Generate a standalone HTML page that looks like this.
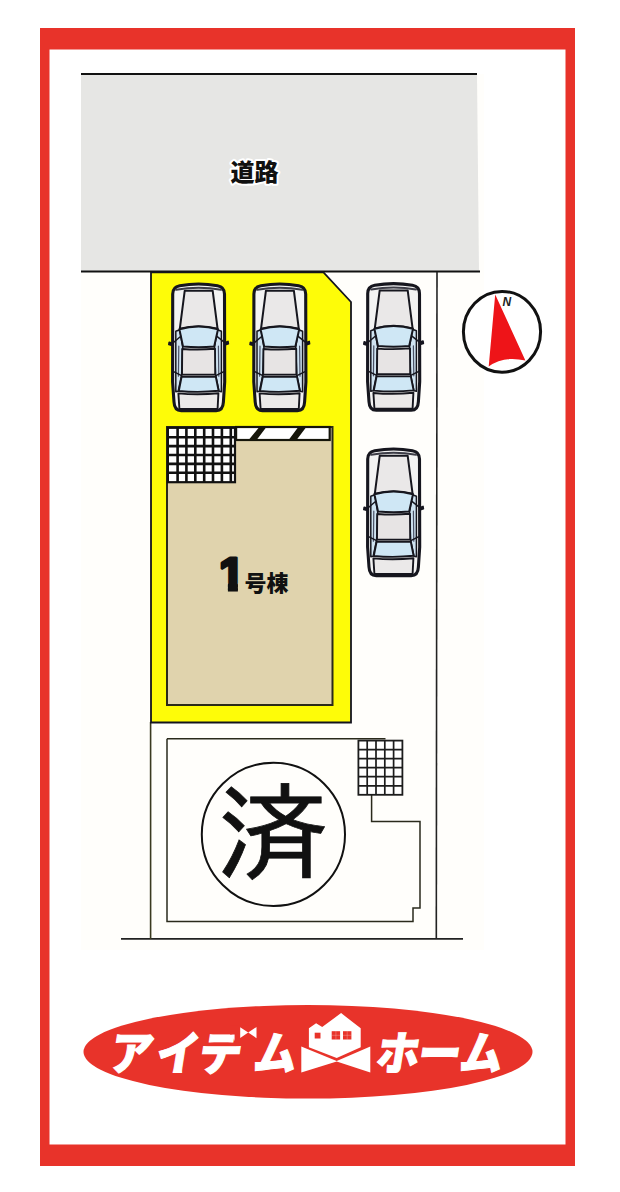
<!DOCTYPE html>
<html lang="ja">
<head>
<meta charset="utf-8">
<title>区画図</title>
<style>
html,body{margin:0;padding:0;background:#fff;}
body{width:620px;height:1192px;overflow:hidden;}
svg{display:block;}
text{font-family:"Liberation Sans","Noto Sans CJK JP",sans-serif;}
.jp{font-family:"Noto Sans CJK JP","Liberation Sans",sans-serif;}
</style>
</head>
<body>
<svg width="620" height="1192" viewBox="0 0 620 1192">
<defs>
  <!-- top view sedan, body box 54 x 130 -->
  <g id="car" stroke-linejoin="round" stroke-linecap="round">
    <!-- mirrors -->
    <path d="M2,61.6 L-2,60.2 L-2.4,62.6 L2,63.8 Z" fill="#15151f" stroke="#15151f" stroke-width="1.6"/>
    <path d="M52.8,61 L56.8,59.4 L57.2,61.8 L52.8,63.2 Z" fill="#15151f" stroke="#15151f" stroke-width="1.6"/>
    <!-- body -->
    <path d="M1.5,12 Q1.5,4.9 8.5,3.7 Q27.4,0.3 46.3,3.7 Q53.3,4.9 53.3,12 L53.5,100 L52.2,120 Q51.8,128.7 45,128.7 L10,128.7 Q3.2,128.7 2.8,120 L1.4,100 Z" fill="#f3f3f3" stroke="#16161e" stroke-width="3.1"/>
    <!-- front bumper band -->
    <path d="M5,7.8 Q27.4,3.9 49.8,7.8" fill="none" stroke="#3c3c46" stroke-width="2"/>
    <!-- hood -->
    <path d="M13.5,8.8 L41.5,8.8 L46.4,46.8 Q27.4,41.6 8.6,46.8 Z" fill="#eae8e8" stroke="#16161e" stroke-width="2"/>
    <g transform="translate(0,1.2)">
    <!-- side glass bands -->
    <path d="M4.6,48 L8.6,46.5 L11.5,64 L10.4,92 L7,108 L4.6,108.5 Z" fill="#cfe3f1" stroke="#16161e" stroke-width="1.5"/>
    <path d="M50.2,48 L46.2,46.5 L43.3,64 L44.4,92 L47.8,108 L50.2,108.5 Z" fill="#cfe3f1" stroke="#16161e" stroke-width="1.5"/>
    <path d="M7.6,63 L7.2,93 M47.2,63 L47.6,93" fill="none" stroke="#4a5064" stroke-width="1.2"/>
    <!-- windshield -->
    <path d="M8.2,46 Q27.4,40.4 46.8,46 L43,63.2 Q27.4,64.8 11.8,63.2 Z" fill="#cfe7f5" stroke="#16161e" stroke-width="2"/>
    <!-- roof -->
    <path d="M11,65.8 Q27.4,67 43.8,65.6 L44,91.4 L10.8,91.4 Z" fill="#e7e4e4" stroke="#16161e" stroke-width="1.9"/>
    <!-- rear window -->
    <path d="M10.4,93.6 L44.6,93.6 L47.4,107.6 Q27.4,109.6 7.6,107.8 Z" fill="#cfe7f5" stroke="#16161e" stroke-width="1.9"/>
    <!-- trunk -->
    <path d="M7.2,110.2 Q27.4,112 47.2,110 L46.4,125.8 L8.2,125.8 Z" fill="#ebe9e9" stroke="#16161e" stroke-width="1.9"/>
    <!-- pillars / door lines -->
    <path d="M2,59.5 L9.6,53 M53,59 L45.4,53 M2.4,88.5 L10.4,92.5 M52.6,88.5 L44.6,92.5" fill="none" stroke="#16161e" stroke-width="1.5"/>
    </g>
  </g>
</defs>

<!-- background -->
<rect x="0" y="0" width="620" height="1192" fill="#ffffff"/>

<!-- red frame -->
<path d="M40,28 H575 V1166 H40 Z M49.5,49.5 V1144.5 H565.5 V49.5 Z" fill="#e8332a" fill-rule="evenodd"/>

<!-- faint paper tint of the plan -->
<rect x="81" y="74" width="403" height="876" fill="#fffefb"/>

<!-- road -->
<path d="M81,74 L477,74 L479,271.5 L81,271.5 Z" fill="#e6e6e4"/>
<path d="M81,74 L477,74" stroke="#111" stroke-width="2" fill="none"/>
<path d="M81,271.5 L480,271.5" stroke="#111" stroke-width="2.2" fill="none"/>
<text class="jp" x="254.5" y="181" font-size="24" font-weight="900" text-anchor="middle" fill="#111" stroke="#fff" stroke-width="4" stroke-linejoin="round" paint-order="stroke">道路</text>

<!-- lot lines -->
<path d="M437,272 L436.3,939" stroke="#222" stroke-width="1.6" fill="none"/>
<path d="M121,938.8 L463,938.8" stroke="#222" stroke-width="1.8" fill="none"/>
<path d="M150.6,722 L150.6,939" stroke="#3a3a20" stroke-width="1.6" fill="none"/>

<!-- yellow lot -->
<path d="M151,272.4 L323.5,272.4 L351,302 L351,722.5 L151,722.5 Z" fill="#fefc08" stroke="#14141e" stroke-width="1.8" stroke-linejoin="miter"/>

<!-- building 1 -->
<path d="M167,427 L332.5,427 L332.5,705 L167,705 Z" fill="#e0d3ad" stroke="#2a2a1a" stroke-width="2"/>
<!-- hatched strip -->
<rect x="236.1" y="427" width="93.6" height="13" fill="#ffffff" stroke="#15150a" stroke-width="2.2"/>
<path d="M248.6,440 L259.3,427 L266.4,427 L256.6,440 Z M288.6,440 L298.3,427 L306.3,427 L296.5,440 Z" fill="#15150a"/>
<!-- grid 1 -->
<g>
  <rect x="167.9" y="427.8" width="67.1" height="54.4" fill="#ffffff" stroke="#111" stroke-width="2.2"/>
  <path d="M177.6,428 V482 M186.4,428 V482 M195.3,428 V482 M204.2,428 V482 M213,428 V482 M221.9,428 V482 M230.8,428 V482 M168.5,437.2 H235 M168.5,446.1 H235 M168.5,455 H235 M168.5,463.9 H235 M168.5,472.8 H235" stroke="#111" stroke-width="2.6" fill="none"/>
</g>
<clipPath id="oneclip"><path d="M200,540 H260 V583 H237.9 V600 H227.9 V583 H200 Z"/></clipPath>
<g clip-path="url(#oneclip)"><text x="218.9" y="590.2" fill="#111" font-weight="bold" font-size="46" stroke="#111" stroke-width="3.2" stroke-linejoin="round">1</text></g>
<text class="jp" x="244.6" y="591.3" font-size="22" font-weight="900" fill="#111">号棟</text>

<!-- cars -->
<use href="#car" x="171.2" y="282"/>
<use href="#car" x="252.4" y="282"/>
<use href="#car" x="366.2" y="281.6"/>
<use href="#car" x="366.2" y="447"/>

<!-- compass -->
<ellipse cx="502" cy="331.8" rx="38.6" ry="40.4" fill="#ffffff" stroke="#111" stroke-width="3"/>
<path d="M495.2,294.5 L525.4,360.4 Q503,355.5 488.7,366.6 Z" fill="#ee1418"/>
<text x="502.5" y="305.6" font-size="12" font-weight="bold" font-style="italic" fill="#222" style="font-family:'Liberation Sans',sans-serif">N</text>

<!-- lower lot (sold) -->
<path d="M167,738.8 L385.5,738.8 M371.6,795 L371.6,821.6 L420,821.6 L420,908 L413,908 L413,921.6 L167,921.6 L167,738.8" fill="none" stroke="#2a2a1c" stroke-width="1.5" stroke-linejoin="miter"/>
<!-- grid 2 -->
<g>
  <rect x="358.4" y="740.6" width="44" height="54.2" fill="#ffffff" stroke="#1c1c1c" stroke-width="1.8"/>
  <path d="M367.2,740.6 V794.8 M376,740.6 V794.8 M384.8,740.6 V794.8 M393.6,740.6 V794.8 M358.4,749.6 H402.4 M358.4,758.7 H402.4 M358.4,767.7 H402.4 M358.4,776.7 H402.4 M358.4,785.8 H402.4" stroke="#1c1c1c" stroke-width="1.7" fill="none"/>
</g>
<circle cx="273.4" cy="834.4" r="71.6" fill="none" stroke="#111" stroke-width="2"/>
<text transform="translate(216.1,871.4) scale(1.124,1.056)" x="0" y="0" font-size="100" fill="#111" stroke="#111" stroke-width="0.7" style="font-family:'IPAGothic','Noto Sans CJK JP',sans-serif">済</text>

<!-- logo -->
<ellipse cx="308" cy="1051.8" rx="224.5" ry="46.8" fill="#e8332a"/>
<g fill="#ffffff">
  <path d="M301.3,1046.5 L336.7,1061 L370.3,1046.5 L370.3,1072.6 L336.7,1061.6 L301.3,1072.6 Z"/>
  <path d="M308.9,1028.3 L316.1,1023.2 L322.2,1026.9 L341.1,1013.1 L360.7,1028.3 L360.7,1047.2 L336.7,1058.1 L308.9,1047.2 Z"/>
</g>
<g fill="#e8332a">
  <rect x="314.7" y="1032.7" width="5.8" height="5.8"/>
  <rect x="331.7" y="1031.2" width="8.4" height="8.3"/>
  <rect x="343" y="1031.2" width="8.4" height="8.3"/>
</g>
<path d="M335.9,1031.2 V1039.5 M331.7,1035.3 H340.1 M347.2,1031.2 V1039.5 M343,1035.3 H351.4" stroke="#ffffff" stroke-opacity="0.35" stroke-width="0.7" fill="none"/>
<g class="jp" font-weight="900" fill="#ffffff" font-size="46" stroke="#ffffff" stroke-width="1.1" stroke-linejoin="miter">
  <text class="jp" transform="translate(0,1069.6) skewX(-9) scale(0.93,1)" x="115.5 166 212.2 271">アイデム</text>
  <text class="jp" transform="translate(0,1069.6) skewX(-9) scale(0.93,1)" x="402.8 447.2 492.4">ホーム</text>
</g>
<!-- ribbon shaped dakuten -->
<path d="M234.6,1025.5 H259 V1042 H234.6 Z M230,1025.5 H235 V1034.4 H230 Z" fill="#e8332a"/>
<path d="M240.2,1027.3 L248.2,1032.6 L256.5,1027 L256.5,1038.2 L248.2,1032.6 L240.2,1038 Z" fill="#ffffff"/>
</svg>
</body>
</html>
